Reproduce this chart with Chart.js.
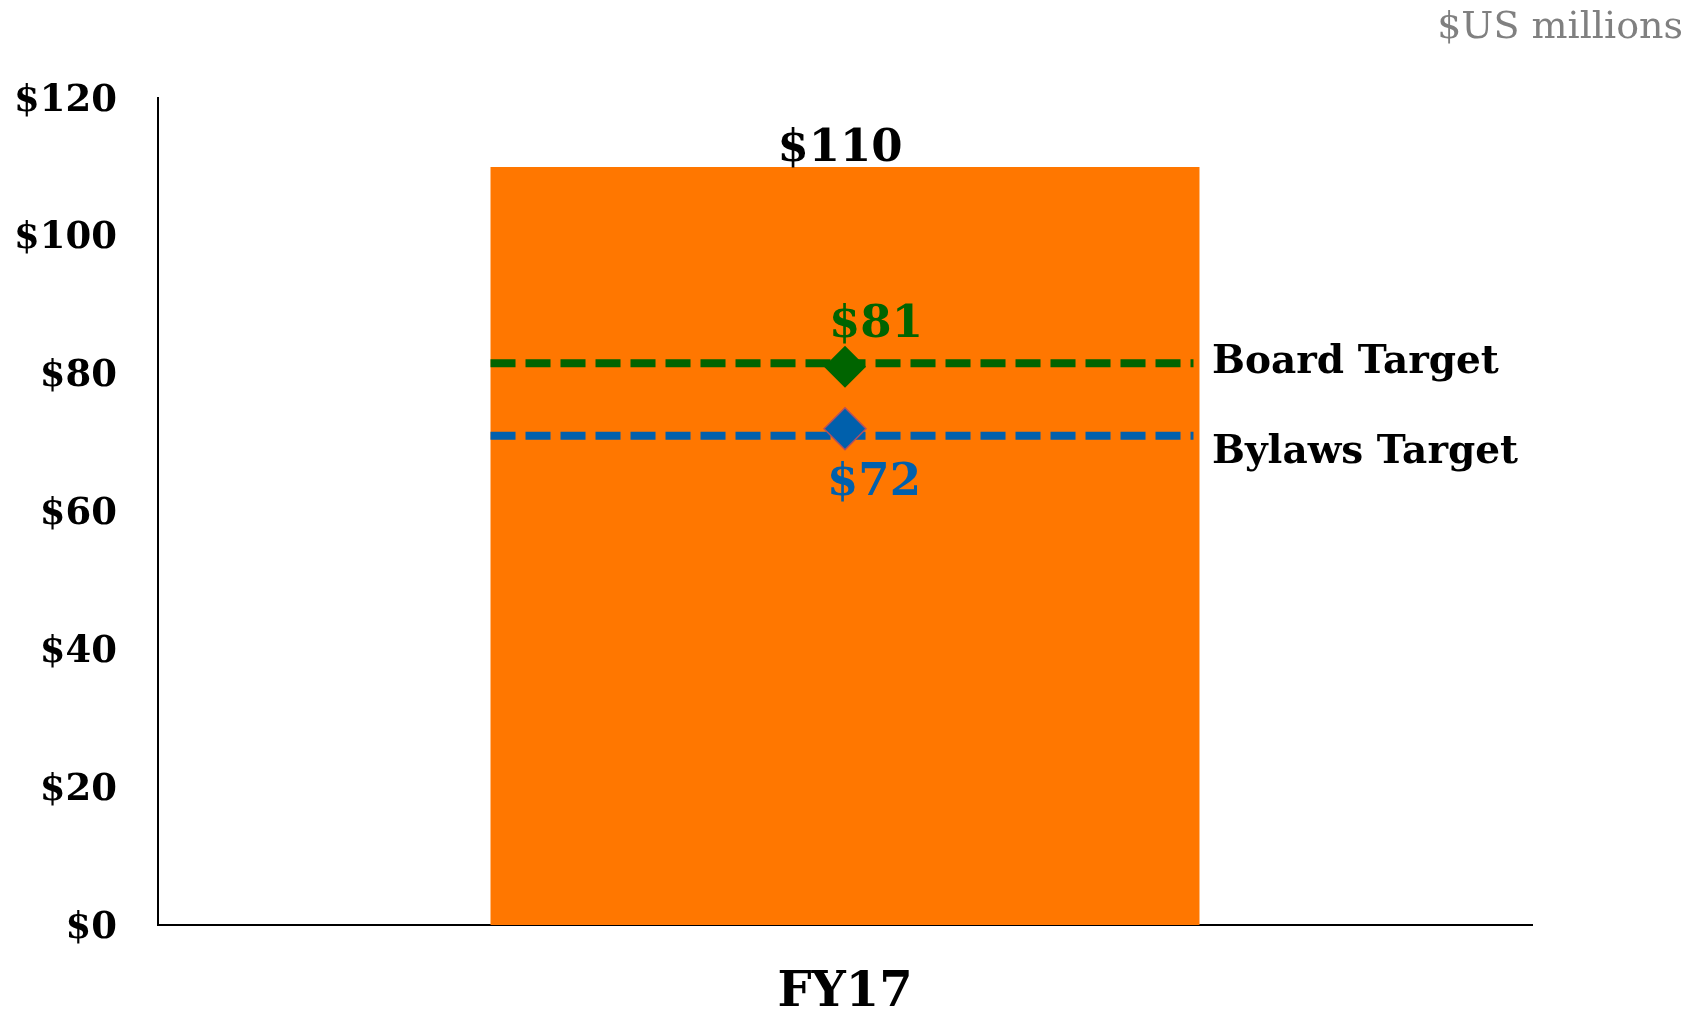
<!DOCTYPE html>
<html>
<head>
<meta charset="utf-8">
<script src="https://cdn.jsdelivr.net/npm/chart.js@4.4.1/dist/chart.umd.min.js"></script>
<style>
  html, body { margin: 0; padding: 0; background: #fff; }
  #wrap { width: 1705px; height: 1017px; position: relative; }
</style>
</head>
<body>
<div id="wrap"><canvas id="grafica"></canvas></div>
<script>
const categorias = ["FY17"];
const valores = [110];
const metaJunta = [81];        // Board Target diamond
const metaEstatutos = [72];    // Bylaws Target diamond
const lineaJunta = [81.5];     // dashed line level as drawn
const lineaEstatutos = [71];
const ticksY = [0, 20, 40, 60, 80, 100, 120];

const SERIF = "'DejaVu Serif', Georgia, serif";
const NARANJA = "#FF7700";
const VERDE = "#006400";
const AZUL = "#0060AC";

const anotaciones = {
  id: "anotaciones",
  afterDatasetDraw(chart, args) {
    if (args.index !== 0) return;
    const ctx = chart.ctx;
    const y = chart.scales.y;
    const barra = chart.getDatasetMeta(0).data[0];
    const x0 = barra.x - barra.width / 2;
    const x1 = barra.x + barra.width / 2 - 6;
    ctx.save();
    ctx.lineWidth = 8;
    ctx.setLineDash([25, 10]);
    [[lineaJunta[0], VERDE], [lineaEstatutos[0], AZUL]].forEach(([v, c]) => {
      const py = y.getPixelForValue(v);
      ctx.strokeStyle = c;
      ctx.beginPath();
      ctx.moveTo(x0, py);
      ctx.lineTo(x1, py);
      ctx.stroke();
    });
    ctx.restore();
  },
  afterDraw(chart) {
    const ctx = chart.ctx;
    const y = chart.scales.y;
    const barra = chart.getDatasetMeta(0).data[0];
    const cx = barra.x;
    ctx.save();
    ctx.textAlign = "center";
    ctx.textBaseline = "alphabetic";

    ctx.font = "bold 45px " + SERIF;
    ctx.fillStyle = "#000";
    ctx.fillText("$" + valores[0], cx - 5, y.getPixelForValue(valores[0]) - 6);

    ctx.fillStyle = VERDE;
    ctx.fillText("$" + metaJunta[0], cx + 31, y.getPixelForValue(metaJunta[0]) - 30);

    ctx.fillStyle = AZUL;
    ctx.textBaseline = "top";
    ctx.fillText("$" + metaEstatutos[0], cx + 29, y.getPixelForValue(metaEstatutos[0]) + 32);

    ctx.textAlign = "left";
    ctx.textBaseline = "alphabetic";
    ctx.fillStyle = "#000";
    ctx.font = "bold 39px " + SERIF;
    ctx.fillText("Board Target", 1212, 373);
    ctx.fillText("Bylaws Target", 1212, 463);

    ctx.textAlign = "right";
    ctx.fillStyle = "#808080";
    ctx.font = "38px " + SERIF;
    ctx.fillText("$US millions", 1683, 38);
    ctx.restore();
  }
};

new Chart(document.getElementById("grafica"), {
  type: "bar",
  data: {
    labels: categorias,
    datasets: [
      {
        label: "Total",
        data: valores,
        backgroundColor: NARANJA,
        categoryPercentage: 1,
        barPercentage: 0.516,
        order: 3
      },
      {
        type: "line",
        label: "Board Target",
        data: metaJunta,
        showLine: false,
        pointStyle: "rectRot",
        pointRadius: 21,
        backgroundColor: VERDE,
        borderColor: VERDE,
        borderWidth: 0,
        order: 1
      },
      {
        type: "line",
        label: "Bylaws Target",
        data: metaEstatutos,
        showLine: false,
        pointStyle: "rectRot",
        pointRadius: 21,
        backgroundColor: AZUL,
        borderColor: "#B05060",
        borderWidth: 1.5,
        order: 2
      }
    ]
  },
  options: {
    responsive: true,
    maintainAspectRatio: false,
    animation: false,
    layout: { padding: { top: 98, right: 173, left: 0, bottom: 0 } },
    plugins: {
      legend: { display: false },
      tooltip: { enabled: false }
    },
    scales: {
      x: {
        grid: { display: false },
        border: { display: true, color: "#000", width: 2 },
        ticks: {
          color: "#000",
          padding: 32,
          font: { family: SERIF, size: 48, weight: "bold" }
        },
        afterFit(scale) { scale.height = 92; }
      },
      y: {
        min: 0,
        max: 120,
        afterBuildTicks(scale) { scale.ticks = ticksY.map(v => ({ value: v })); },
        grid: { display: false },
        border: { display: true, color: "#000", width: 2 },
        ticks: {
          color: "#000",
          padding: 33,
          labelOffset: 3,
          font: { family: SERIF, size: 37, weight: "bold" },
          callback: v => "$" + v
        },
        afterFit(scale) { scale.width = 158; }
      }
    }
  },
  plugins: [anotaciones]
});
</script>
</body>
</html>
